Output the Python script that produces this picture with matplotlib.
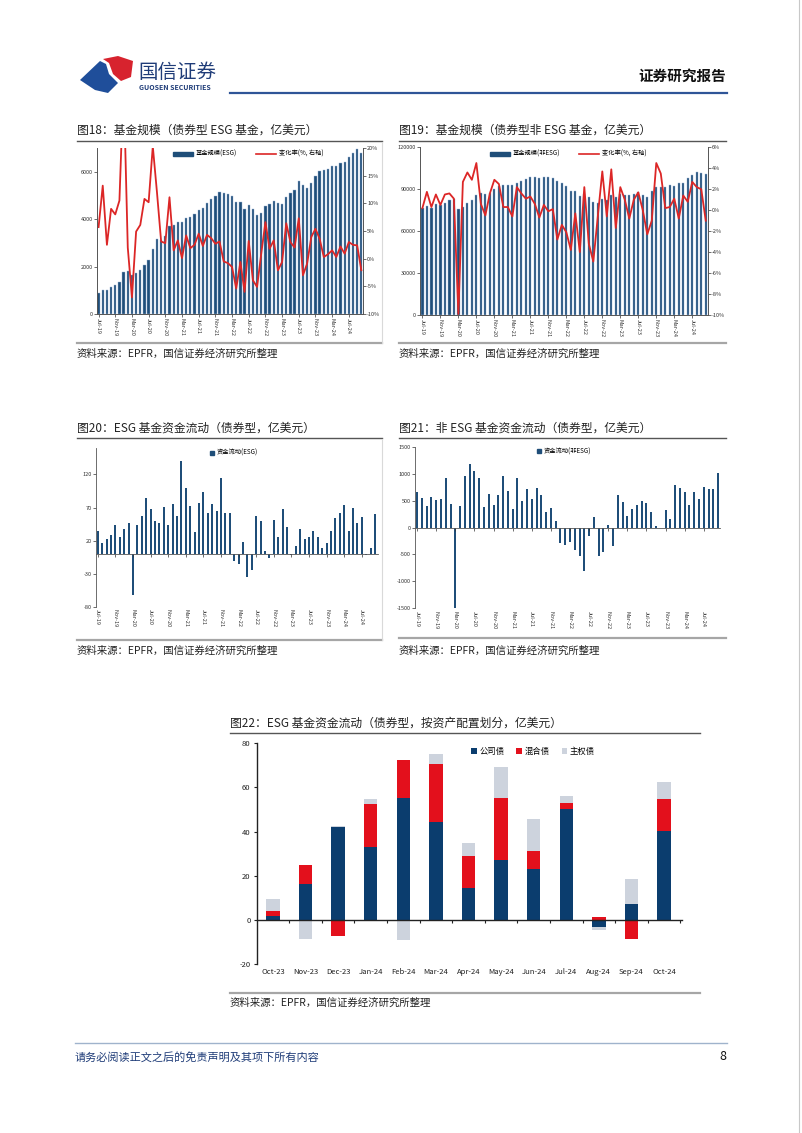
import numpy as np
import matplotlib
matplotlib.use("Agg")
import matplotlib.pyplot as plt
from matplotlib.patches import Polygon, Patch
from matplotlib.lines import Line2D

plt.rcParams['font.family'] = ['Noto Sans CJK SC', 'DejaVu Sans']
plt.rcParams['axes.unicode_minus'] = False

W, H = 802, 1133

# ---------------- data ----------------
month_ticks = ['Jul-19', 'Nov-19', 'Mar-20', 'Jul-20', 'Nov-20', 'Mar-21', 'Jul-21', 'Nov-21',
               'Mar-22', 'Jul-22', 'Nov-22', 'Mar-23', 'Jul-23', 'Nov-23', 'Mar-24', 'Jul-24']

# fig 18: ESG bond fund size (100m USD) and monthly change (%)
esg_size = [890, 1000, 1030, 1120, 1220, 1340, 1770, 1800, 1640, 1740, 1850, 2050, 2280, 2760, 3150, 3120,
            3280, 3690, 3750, 3860, 3860, 4030, 4070, 4200, 4380, 4490, 4680, 4850, 4960, 5130, 5120, 5080,
            4970, 4730, 4720, 4440, 4590, 4410, 4180, 4240, 4550, 4620, 4770, 4680, 4630, 4940, 5110, 5220,
            5590, 5420, 5320, 5540, 5820, 6050, 6060, 6100, 6220, 6220, 6350, 6410, 6620, 6780, 6950, 6790]
esg_rate = [5.7, 13.2, 2.5, 9.0, 8.0, 10.5, 32.0, 2.0, -7.0, 4.9, 6.1, 10.8, 10.2, 20.3, 12.0, 3.1,
            2.8, 11.1, 1.5, 3.3, 0.1, 4.2, 1.9, 2.5, 4.5, 2.3, 4.3, 3.7, 2.7, 3.1, -0.5, -0.8,
            -1.5, -5.4, -0.6, -6.0, 3.2, -3.9, -5.1, 0.9, 6.6, 1.8, 3.3, -2.1, -0.6, 6.4, 3.0, 2.0,
            7.3, -3.0, -0.9, 3.9, 5.4, 3.6, 0.3, 0.8, 1.5, 0.3, 2.2, 0.9, 3.0, 2.5, 2.4, -2.1]

# fig 19: non-ESG bond fund size and monthly change (%)
nonesg_size = [76500, 78000, 76500, 79500, 78500, 80500, 82000, 83000, 75500, 77500, 80000, 82500, 86000, 87000, 86500, 87500,
               90000, 92500, 92900, 92900, 92900, 94600, 96000, 97200, 98700, 98900, 98200, 98400, 98400, 98200, 95800, 94600,
               92400, 88900, 88600, 85000, 86500, 84500, 80700, 80200, 83100, 82600, 85700, 84100, 86900, 86000, 86000, 86900,
               87700, 86200, 84500, 88900, 91700, 91700, 91700, 92900, 92400, 94100, 94600, 97700, 100100, 102000, 101300, 101000]
nonesg_rate = [0.2, 1.75, 0.3, 1.5, 0.5, 1.5, 1.6, 1.1, -9.9, 2.7, 3.6, 2.9, 4.5, 0.6, -0.5, 1.6,
               2.9, 2.5, 0.3, 0.3, -0.6, 2.2, 1.6, 1.1, 1.3, 0.6, -0.7, 0.5, -0.1, 0.1, -2.8, -1.4,
               -2.1, -3.8, -0.3, -4.0, 2.2, -3.2, -4.9, -0.6, 3.7, -0.6, 3.9, -1.7, 2.2, 1.0, -0.8, 1.0,
               1.7, 0.0, -2.3, -1.0, 4.5, 3.5, 0.2, 0.3, 1.1, -0.8, 1.4, 0.8, 2.7, 2.2, 2.0, -1.0]

# fig 20 / 21: monthly flows
esg_flow = [34, 16, 23, 29, 43, 25, 38, 47, -63, 43, 57, 85, 67, 49, 47, 71,
            44, 75, 57, 140, 99, 72, 33, 77, 94, 62, 76, 64, 115, 61, 62, -11,
            -16, 18, -35, -24, 57, 49, 4, -6, 51, 25, 67, 41, -1.5, 12, 38, 23,
            25, 34, 26, 9, 16, 35, 54, 62, 74, 34, 69, 46, 56, -2, 9, 60]
nonesg_flow = [662, 545, 390, 563, 514, 520, 922, 440, -1520, 396, 953, 1176, 1058, 910, 378, 631,
               421, 607, 947, 669, 347, 910, 489, 706, 532, 730, 607, 291, 353, 124, -291, -322,
               -272, -415, -532, -805, -149, 198, -520, -458, 50, -340, 600, 470, 217, 347, 409, 483,
               452, 285, 19, 0, 316, 155, 780, 730, 656, 421, 650, 526, 743, 718, 724, 1015]

# fig 22: flows by asset allocation
cats22 = ['Oct-23', 'Nov-23', 'Dec-23', 'Jan-24', 'Feb-24', 'Mar-24', 'Apr-24',
          'May-24', 'Jun-24', 'Jul-24', 'Aug-24', 'Sep-24', 'Oct-24']
corp = [1.8, 16.1, 42.0, 32.9, 55.2, 44.5, 14.5, 27.2, 23.1, 50.1, -3.3, 7.1, 40.3]
mixed = [2.1, 8.8, -7.4, 19.8, 17.1, 26.1, 14.6, 27.9, 8.3, 3.0, 1.2, -8.5, 14.3]
sov = [5.5, -8.6, 0.4, 2.1, -9.1, 4.4, 5.6, 14.0, 14.5, 3.0, -1.2, 11.5, 8.0]

NAVY = '#1F4E79'
RED = '#DC2626'
TXT = '#222222'


def box(l, t, r, b):
    return [l / W, 1 - b / H, (r - l) / W, (b - t) / H]


def fx(x):
    return x / W


def fy(y):
    return 1 - y / H


fig = plt.figure(figsize=(W / 100, H / 100), dpi=100)


def hline(x0, x1, y, color, lw):
    fig.add_artist(Line2D([fx(x0), fx(x1)], [fy(y), fy(y)], color=color, lw=lw))


def vline(x, y0, y1, color, lw):
    fig.add_artist(Line2D([fx(x), fx(x)], [fy(y0), fy(y1)], color=color, lw=lw))


# ---------------- header / footer ----------------
red_logo = [(103, 59), (118, 56), (133, 61), (131, 77), (121, 81), (113, 74), (109, 63)]
blue_logo = [(80, 80), (100, 61), (106, 64), (109, 74), (118, 83), (108, 93), (95, 90)]
for pts, c in [(red_logo, '#D7232E'), (blue_logo, '#1F4E9A')]:
    fig.add_artist(Polygon([(fx(a), fy(b)) for a, b in pts], closed=True, color=c, lw=0))
fig.text(fx(138), fy(72), '国信证券', fontsize=14, color='#1F3C78', va='center', ha='left')
fig.text(fx(139), fy(88), 'GUOSEN SECURITIES', fontsize=5, color='#1F3C78', va='center', ha='left',
         fontweight='bold')
fig.text(fx(726), fy(76), '证券研究报告', fontsize=10.5, color='#111111', va='center', ha='right',
         fontweight='bold')
hline(230, 727, 93, '#2F5597', 1.6)
vline(799, 0, H, '#C8C8C8', 0.8)

hline(75, 727, 1043, '#9FB3CC', 1.0)
fig.text(fx(75), fy(1057), '请务必阅读正文之后的免责声明及其项下所有内容', fontsize=8, color='#1F3C78',
         va='center', ha='left', style='italic')
fig.text(fx(726), fy(1057), '8', fontsize=9, color='#111111', va='center', ha='right')


def panel_frame(x0, x1, title, ty, line_y, bot_y, src_y, right_frame=False):
    fig.text(fx(x0), fy(ty), title, fontsize=8.5, color=TXT, va='center', ha='left')
    hline(x0, x1, line_y, '#555555', 1.0)
    hline(x0, x1, bot_y, '#A6A6A6', 1.6)
    if right_frame:
        vline(x1, line_y + 1, bot_y, '#D9D9D9', 0.8)
    fig.text(fx(x0), fy(src_y), '资料来源：EPFR，国信证券经济研究所整理', fontsize=7.5,
             color=TXT, va='center', ha='left')


def small_ticks(ax):
    ax.tick_params(axis='both', labelsize=4, length=2, width=0.5, pad=1, colors='#333333')
    for s in ax.spines.values():
        s.set_linewidth(0.6)
        s.set_color('#555555')


x = np.arange(len(esg_size))

# ---------------- fig 18 ----------------
panel_frame(77, 382, '图18：基金规模（债券型 ESG 基金，亿美元）', 130, 141, 343, 354, right_frame=True)
ax = fig.add_axes(box(96.7, 148, 363, 314))
ax.bar(x, esg_size, width=0.55, color=NAVY, edgecolor='#9DB5D6', linewidth=0.3)
ax.set_ylim(0, 7000)
ax.set_yticks([0, 2000, 4000, 6000])
ax.set_xlim(-0.45, 63.4)
ax.set_xticks(range(0, 64, 4))
ax.set_xticklabels(month_ticks, rotation=270)
ax2 = ax.twinx()
ax2.plot(x, esg_rate, color=RED, lw=1.3)
ax2.set_ylim(-10, 20)
ax2.set_yticks(range(-10, 21, 5))
ax2.set_yticklabels([f'{v}%' for v in range(-10, 21, 5)])
for a in (ax, ax2):
    a.spines['top'].set_visible(False)
    small_ticks(a)
ax.legend([Patch(color=NAVY), Line2D([], [], color=RED, lw=1.2)],
          ['基金规模(ESG)', '变化率(%, 右轴)'], loc='center', bbox_to_anchor=(0.57, 0.964),
          ncol=2, frameon=False, fontsize=4.5, handlelength=3.2, handleheight=0.5,
          handletextpad=0.5, columnspacing=3)

# ---------------- fig 19 ----------------
panel_frame(399, 726, '图19：基金规模（债券型非 ESG 基金，亿美元）', 130, 141, 343, 354)
ax = fig.add_axes(box(419.7, 147.3, 708, 315))
ax.bar(x, nonesg_size, width=0.5, color=NAVY, edgecolor='#9DB5D6', linewidth=0.3)
ax.set_ylim(0, 120000)
ax.set_yticks(range(0, 120001, 30000))
ax.set_xlim(-0.6, 63.5)
ax.set_xticks(range(0, 64, 4))
ax.set_xticklabels(month_ticks, rotation=270)
ax2 = ax.twinx()
ax2.plot(x, nonesg_rate, color=RED, lw=1.3)
ax2.set_ylim(-10, 6)
ax2.set_yticks(range(-10, 7, 2))
ax2.set_yticklabels([f'{v}%' for v in range(-10, 7, 2)])
for a in (ax, ax2):
    a.spines['top'].set_visible(False)
    small_ticks(a)
ax.legend([Patch(color=NAVY), Line2D([], [], color=RED, lw=1.2)],
          ['基金规模(非ESG)', '变化率(%, 右轴)'], loc='center', bbox_to_anchor=(0.515, 0.96),
          ncol=2, frameon=False, fontsize=4.5, handlelength=3.2, handleheight=0.5,
          handletextpad=0.5, columnspacing=3)


def flow_panel(rect, vals, width, ylim, yticks, xlim, label, leg_xy):
    ax = fig.add_axes(box(*rect))
    ax.bar(x, vals, width=width, color=NAVY, lw=0)
    ax.set_ylim(*ylim)
    ax.set_yticks(yticks)
    ax.set_xlim(*xlim)
    ax.spines['top'].set_visible(False)
    ax.spines['right'].set_visible(False)
    ax.spines['bottom'].set_position(('data', 0))
    ax.set_xticks(range(0, 64, 4))
    ax.tick_params(axis='x', labelbottom=False)
    small_ticks(ax)
    sec = ax.secondary_xaxis('bottom')
    sec.set_xticks(range(0, 64, 4))
    sec.set_xticklabels(month_ticks, rotation=270)
    sec.tick_params(length=0, labelsize=4, pad=2, colors='#333333')
    sec.spines['bottom'].set_visible(False)
    ax.legend([Patch(color=NAVY)], [label], loc='center', bbox_to_anchor=leg_xy, frameon=False,
              fontsize=4.5, handlelength=0.6, handleheight=0.6, handletextpad=0.4)
    return ax


# ---------------- fig 20 ----------------
panel_frame(77, 382, '图20：ESG 基金资金流动（债券型，亿美元）', 428, 438, 640, 651, right_frame=True)
flow_panel((96, 448, 378, 606.7), esg_flow, 0.45, (-80, 160), [-80, -30, 20, 70, 120],
           (-0.4, 63.7), '资金流动(ESG)', (0.49, 0.97))

# ---------------- fig 21 ----------------
panel_frame(399, 726, '图21：非 ESG 基金资金流动（债券型，亿美元）', 428, 438, 638, 651)
flow_panel((414.7, 446.7, 720, 608.3), nonesg_flow, 0.42, (-1500, 1500), range(-1500, 1501, 500),
           (-0.5, 63.4), '资金流动(非ESG)', (0.49, 0.97))

# ---------------- fig 22 ----------------
panel_frame(230, 700, '图22：ESG 基金资金流动（债券型，按资产配置划分，亿美元）', 723, 733, 993, 1003)
ax = fig.add_axes(box(256.7, 743.3, 682, 964))
xc = np.arange(len(cats22))
pos_base = np.zeros(len(cats22))
neg_base = np.zeros(len(cats22))
for vals, col, lab in [(corp, '#0B3D6E', '公司债'), (mixed, '#E3101C', '混合债'), (sov, '#CDD3DD', '主权债')]:
    v = np.array(vals)
    base = np.where(v >= 0, pos_base, neg_base)
    ax.bar(xc, v, bottom=base, width=0.41, color=col, label=lab, lw=0)
    pos_base = pos_base + np.clip(v, 0, None)
    neg_base = neg_base + np.clip(v, None, 0)
ax.set_ylim(-20, 80)
ax.set_yticks(range(-20, 81, 20))
ax.set_xlim(-0.5, 12.55)
ax.spines['top'].set_visible(False)
ax.spines['right'].set_visible(False)
ax.spines['bottom'].set_position(('data', 0))
ax.set_xticks(np.arange(0.5, 13, 1))
ax.tick_params(axis='x', labelbottom=False, length=2.5, width=0.8, colors='#222222')
ax.tick_params(axis='y', labelsize=5.5, length=2.5, width=0.8, pad=2, colors='#222222')
for s in ('left', 'bottom'):
    ax.spines[s].set_linewidth(1.0)
    ax.spines[s].set_color('#222222')
sec = ax.secondary_xaxis('bottom')
sec.set_xticks(xc)
sec.set_xticklabels(cats22)
sec.tick_params(length=0, labelsize=5.5, pad=3, colors='#222222')
sec.spines['bottom'].set_visible(False)
ax.legend(loc='center', bbox_to_anchor=(0.65, 0.965), ncol=3, frameon=False, fontsize=6,
          handlelength=0.7, handleheight=0.7, handletextpad=0.3, columnspacing=1.4)

fig.savefig('out.png', dpi=100)
